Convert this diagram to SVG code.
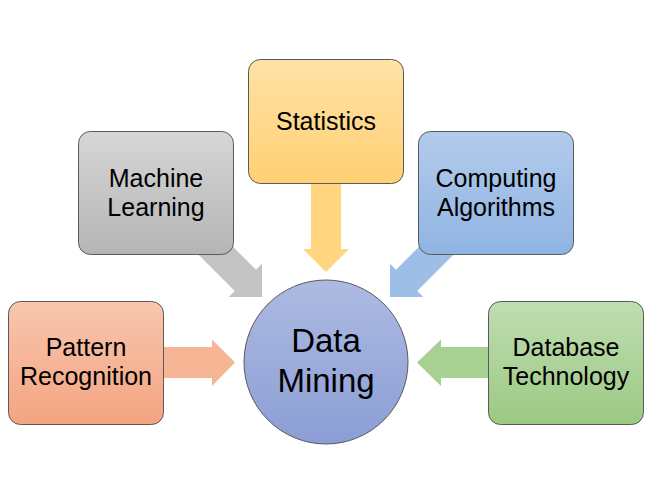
<svg xmlns="http://www.w3.org/2000/svg" width="648" height="504" viewBox="0 0 648 504">
  <defs>
    <linearGradient id="gOrange" x1="0" y1="0" x2="0" y2="1">
      <stop offset="0" stop-color="#f8c6ae"/>
      <stop offset="1" stop-color="#f4a481"/>
    </linearGradient>
    <linearGradient id="gGray" x1="0" y1="0" x2="0" y2="1">
      <stop offset="0" stop-color="#d6d6d6"/>
      <stop offset="1" stop-color="#b5b5b5"/>
    </linearGradient>
    <linearGradient id="gGold" x1="0" y1="0" x2="0" y2="1">
      <stop offset="0" stop-color="#ffe2a6"/>
      <stop offset="1" stop-color="#ffd074"/>
    </linearGradient>
    <linearGradient id="gBlue" x1="0" y1="0" x2="0" y2="1">
      <stop offset="0" stop-color="#b3cbeb"/>
      <stop offset="1" stop-color="#8fb4e2"/>
    </linearGradient>
    <linearGradient id="gGreen" x1="0" y1="0" x2="0" y2="1">
      <stop offset="0" stop-color="#c0ddb2"/>
      <stop offset="1" stop-color="#9bc982"/>
    </linearGradient>
    <linearGradient id="gCore" x1="0" y1="0" x2="0" y2="1">
      <stop offset="0" stop-color="#adbbe2"/>
      <stop offset="1" stop-color="#8b9dd5"/>
    </linearGradient>
    <!-- block arrow pointing +x, tip at origin: shaft 30 wide, head 47 wide, 23.5 long -->
    <path id="blockArrow" d="M-78,-15 L-23.5,-15 L-23.5,-23.5 L0,0 L-23.5,23.5 L-23.5,15 L-78,15 Z"/>
  </defs>
  <style>
    .box { stroke: #5a5a5a; stroke-width: 1; }
    .label { font-family: "Liberation Sans", Arial, sans-serif; font-size: 25px; fill: #000; text-anchor: middle; }
    .big { font-size: 33px; }
  </style>

  <rect width="648" height="504" fill="#ffffff"/>

  <!-- connectors: block arrows from each field into the core -->
  <g id="connectors">
    <!-- Pattern Recognition -> Data Mining -->
    <path d="M160,347 L212,347 L212,339.5 L235,362.5 L212,386 L212,378 L160,378 Z" fill="#f6b595"/>
    <!-- Database Technology -> Data Mining -->
    <path d="M491,347 L441,347 L441,339.5 L417,362.5 L441,386 L441,378 L491,378 Z" fill="#a7d192"/>
    <!-- Statistics -> Data Mining -->
    <path d="M311,180 L311,249 L303,249 L326,272 L349,249 L341,249 L341,180 Z" fill="#ffd57f"/>
    <!-- Machine Learning -> Data Mining -->
    <use href="#blockArrow" transform="translate(262,297) rotate(45)" fill="#c3c3c3"/>
    <!-- Computing Algorithms -> Data Mining -->
    <use href="#blockArrow" transform="translate(390,297) rotate(135)" fill="#9dbfe7"/>
  </g>

  <g id="node-pattern">
    <rect class="box" x="8.5" y="301.5" width="155" height="123" rx="12" fill="url(#gOrange)"/>
    <text class="label" x="86" y="356">Pattern</text>
    <text class="label" x="86" y="385">Recognition</text>
  </g>

  <g id="node-machine">
    <rect class="box" x="78.5" y="131.5" width="155" height="123" rx="12" fill="url(#gGray)"/>
    <text class="label" x="156" y="187">Machine</text>
    <text class="label" x="156" y="216">Learning</text>
  </g>

  <g id="node-statistics">
    <rect class="box" x="248.5" y="59.5" width="155" height="124" rx="12" fill="url(#gGold)"/>
    <text class="label" x="326" y="130">Statistics</text>
  </g>

  <g id="node-computing">
    <rect class="box" x="418.5" y="131.5" width="155" height="123" rx="12" fill="url(#gBlue)"/>
    <text class="label" x="496" y="187">Computing</text>
    <text class="label" x="496" y="216">Algorithms</text>
  </g>

  <g id="node-database">
    <rect class="box" x="488.5" y="301.5" width="155" height="123" rx="12" fill="url(#gGreen)"/>
    <text class="label" x="566" y="356">Database</text>
    <text class="label" x="566" y="385">Technology</text>
  </g>

  <g id="node-core">
    <circle class="box" cx="326" cy="362" r="82" fill="url(#gCore)"/>
    <text class="label big" x="326" y="352">Data</text>
    <text class="label big" x="326" y="392">Mining</text>
  </g>
</svg>
